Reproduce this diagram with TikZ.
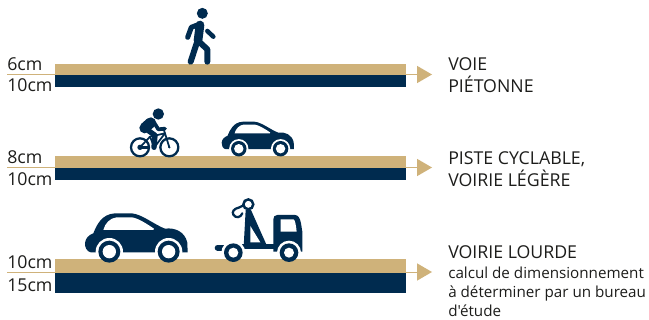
\documentclass[tikz,border=0pt]{standalone}
\usepackage{fontspec}
\newfontfamily\labfont{Open Sans}
\definecolor{navy}{HTML}{002B4F}
\definecolor{sand}{HTML}{CFB27A}
\definecolor{ink}{HTML}{1D1D1B}
\newcommand{\caricon}[3]{%
\begin{scope}[shift={(#1,#2)},scale=#3]
\fill[navy] (62,187) .. controls (50,185) and (44,170) .. (45,160) .. controls (46,145) and (56,135) .. (70,130)
 .. controls (80,105) and (95,72) .. (135,70) -- (185,70) .. controls (215,72) and (255,105) .. (285,116)
 .. controls (315,112) and (345,125) .. (352,158) -- (353,187) -- cycle;
\fill[white] (100,120) .. controls (105,100) and (120,84) .. (140,82) -- (185,82) .. controls (205,84) and (235,105) .. (252,116) -- (250,120) -- cycle;
\begin{scope}
\clip (40,0) rectangle (360,187.5);
\foreach \wx in {118,296}{\fill[white] (\wx,185) circle (41);}
\end{scope}
\foreach \wx in {118,296}{
 \fill[navy] (\wx,185) circle (33);
 \fill[white] (\wx,185) circle (20);
}
\end{scope}}
\tikzset{
 x=0.75pt,y=-0.75pt,
 lbl/.style={anchor=base west,inner sep=0pt,text=ink,font=\labfont\fontsize{13.3pt}{15pt}\selectfont},
 sub/.style={anchor=base west,inner sep=0pt,text=ink,font=\labfont\fontsize{11.4pt}{13pt}\selectfont},
 lead/.style={draw=sand,line width=0.75pt},
 tip/.style={fill=sand,draw=none},
 limb/.style={draw=navy,line cap=round,line join=round,line width=4.5pt},
 bar/.style={draw=navy,line width=1.3pt,line cap=round,line join=round}
}
\begin{document}
\begin{tikzpicture}
\useasboundingbox (0,0) rectangle (649,320);
% layers
\fill[sand] (55,64) rectangle (406,75);
\fill[navy] (55,75) rectangle (406,87);
\fill[sand] (55,156) rectangle (406,168);
\fill[navy] (55,168) rectangle (406,180);
\fill[sand] (55,259) rectangle (406,272.5);
\fill[navy] (55,272.5) rectangle (406,293);
% leaders and arrows
\coordinate (a1) at (7,74.5); \coordinate (b1) at (55,74.5); \coordinate (c1) at (406,74.5); \coordinate (d1) at (418,74.5);
\coordinate (a2) at (7,167.5); \coordinate (b2) at (55,167.5); \coordinate (c2) at (406,167.5); \coordinate (d2) at (418,167.5);
\coordinate (a3) at (7,272); \coordinate (b3) at (55,272); \coordinate (c3) at (406,272); \coordinate (d3) at (418,272);
\foreach \i in {1,2,3}{
 \draw[lead] (a\i) -- (b\i);
 \draw[lead] (c\i) -- (d\i);
 \fill[tip] ([shift={(-1,-8.7)}]d\i) -- ([shift={(14,0)}]d\i) -- ([shift={(-1,8.7)}]d\i) -- cycle;
}
% left labels
\node[lbl] (t1) at (7,70.5) {6cm};
\node[lbl] (b1l) at (7,91.5) {10cm};
\node[lbl] (t2) at (7,163.5) {8cm};
\node[lbl] (b2l) at (7,185.5) {10cm};
\node[lbl] (t3) at (7,268.5) {10cm};
\node[lbl] (b3l) at (7,291) {15cm};
% right labels
\node[lbl] (r1a) at (448,71) {VOIE};
\node[lbl] (r1b) at (448,93) {PIÉTONNE};
\node[lbl] (r2a) at (448,164.5) {PISTE CYCLABLE,};
\node[lbl] (r2b) at (448,187) {VOIRIE LÉGÈRE};
\node[lbl] (r3a) at (448,258) {VOIRIE LOURDE};
\node[sub] (r3b) at (448,278.5) {calcul de dimensionnement};
\node[sub] (r3c) at (448,297) {à déterminer par un bureau};
\node[sub] (r3d) at (448,316) {d'étude};
% walker
\begin{scope}[scale=1/3]
\fill[navy] (607,40) circle (16.5);
\draw[limb,line width=3.8pt] (600,72) -- (574,82) -- (563,112);
\draw[limb,line width=6.5pt] (600,75) -- (594,122);
\draw[limb] (590,130) -- (572,185);
\draw[limb] (597,125) -- (622,148) -- (622,185);
\draw[limb,line width=3.4pt] (622,93) -- (640,110);
\end{scope}
% bicycle
\begin{scope}[shift={(100,100)},scale=1/3]
\fill[navy] (175,42) circle (17);
\draw[navy,line width=1.7pt] (120,142) circle (27);
\draw[navy,line width=1.7pt] (208,142) circle (27);
\draw[navy,line width=2.4pt,line cap=round] (120,142) -- (143,142);
\fill[navy] (120,142) circle (8);
\fill[navy] (208,142) circle (3.5);
\draw[bar] (120,142) -- (150,110) -- (163,142) -- (195,100) -- (208,142);
\draw[bar] (150,110) -- (195,100) -- (190,85);
\draw[limb,line width=8pt] (152,68) -- (134,84);
\draw[limb,line width=2.8pt] (160,64) -- (175,88) -- (195,86);
\draw[limb,line width=4pt] (134,84) -- (165,106) -- (162,142);
\end{scope}
% cars
\caricon{211.1}{105.3}{0.2347}
\caricon{70}{190}{0.3333}
% tow truck
\begin{scope}[shift={(70,190)},scale=1/3]
\fill[navy] (610,170) -- (610,88) .. controls (610,80) and (614,75) .. (622,75) -- (675,75) .. controls (685,75) and (690,85) .. (693,100) -- (697,125) -- (697,185) -- (610,185) -- cycle;
\fill[white] (632,88) -- (670,88) .. controls (675,88) and (678,105) .. (680,125) -- (632,125) -- cycle;
\fill[navy] (500,163) rectangle (640,176);
\fill[navy] (521,170) -- (527,60) -- (543,60) -- (592,170) -- cycle;
\fill[white] (541,108) -- (541,157) -- (571,157) -- cycle;
\draw[navy,line width=4.5pt,line cap=round] (443,173) -- (462,173);
\draw[navy,line width=2pt] (535,43) circle (14.5);
\fill[white] (535,43) circle (10);
\draw[navy,line width=1.7pt,line cap=round] (521,46) -- (506,53) .. controls (492,56) and (485,65) .. (490,74) .. controls (496,85) and (512,84) .. (517,70);
\begin{scope}
\clip (430,0) rectangle (710,186);
\foreach \wx in {490,657}{\fill[white] (\wx,188) circle (36);}
\end{scope}
\foreach \wx in {490,657}{
 \fill[navy] (\wx,188) circle (28);
 \fill[white] (\wx,188) circle (15);
}
\end{scope}
\end{tikzpicture}
\end{document}
